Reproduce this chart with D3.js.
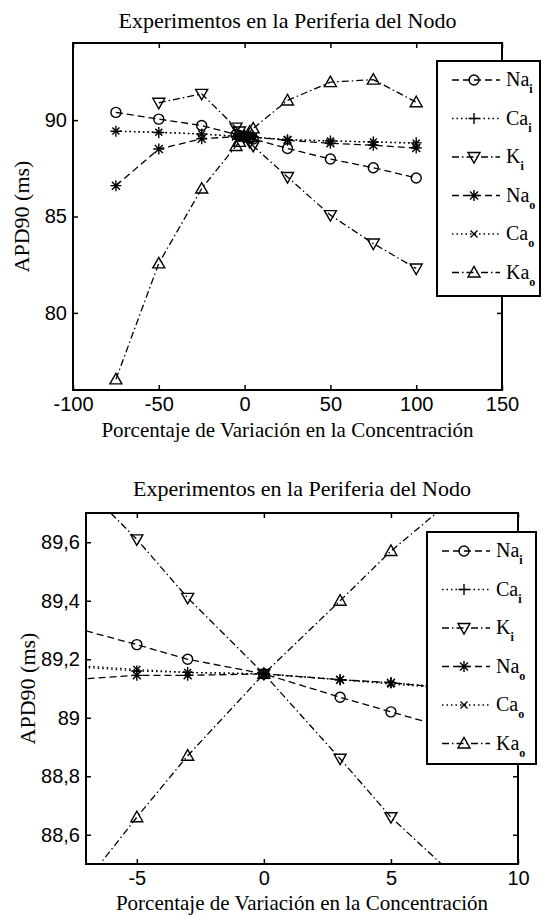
<!DOCTYPE html>
<html>
<head>
<meta charset="utf-8">
<script src="https://cdn.jsdelivr.net/npm/d3@7"></script>
<style>
  body { margin: 0; background: #fff; }
  text { fill: #000; }
</style>
</head>
<body>
<svg id="chart" width="542" height="918"></svg>
<script>
// porcentaje de variacion de la concentracion (eje x, comun a todas las series)
var pct = [-75, -50, -25, -5, -3, 0, 3, 5, 25, 50, 75, 100];

// APD90 (ms) de cada serie
var naI = [90.40, 90.05, 89.72, 89.25, 89.20, 89.15, 89.07, 89.02, 88.53, 87.98, 87.53, 87.00];
var caI = [89.42, 89.36, 89.28, 89.16, 89.155, 89.15, 89.13, 89.12, 88.98, 88.92, 88.87, 88.82];
var kI  = [null, 90.90, 91.36, 89.61, 89.41, 89.15, 88.86, 88.66, 87.05, 85.07, 83.60, 82.30];
var naO = [86.60, 88.50, 89.03, 89.145, 89.145, 89.15, 89.13, 89.12, 88.95, 88.80, 88.70, 88.55];
var caO = [89.43, 89.37, 89.28, 89.165, 89.155, 89.15, 89.13, 89.115, 88.99, 88.92, 88.86, 88.80];
var kaO = [76.55, 82.57, 86.45, 88.66, 88.87, 89.15, 89.40, 89.57, 91.02, 91.97, 92.10, 90.93];

var ionNames = ["Na", "Ca", "K", "Na", "Ca", "Ka"];
var ionSubs  = ["i", "i", "i", "o", "o", "o"];

var topXTicks = [-100, -50, 0, 50, 100, 150];
var topYTicks = [80, 85, 90];
var botXTicks = [-5, 0, 5, 10];
var botYTicks = [88.6, 88.8, 89, 89.2, 89.4, 89.6];

var titleText = "Experimentos en la Periferia del Nodo";
var xLabelText = "Porcentaje de Variación en la Concentración";
var yLabelText = "APD90 (ms)";

// estilo de linea y marcador por serie (estilo MATLAB)
var DASH = "7,4", DOT = "1.5,3", DASHDOT = "7,3,1.5,3";
var styles = [
  { dash: DASH, mark: "o" },
  { dash: DOT, mark: "+" },
  { dash: DASHDOT, mark: "v" },
  { dash: DASH, mark: "*" },
  { dash: DOT, mark: "x" },
  { dash: DASHDOT, mark: "^" }
];
var allSeries = [naI, caI, kI, naO, caO, kaO];

var SERIF = "Liberation Serif, Times New Roman, serif";
var SANS = "Liberation Sans, Arial, sans-serif";

function markerPath(m) {
  switch (m) {
    case "+": return "M-5.5,0H5.5M0,-5.5V5.5";
    case "x": return "M-3.5,-3.5L3.5,3.5M-3.5,3.5L3.5,-3.5";
    case "*": return "M-5.5,0H5.5M0,-5.5V5.5M-4,-4L4,4M-4,4L4,-4";
    case "v": return "M-6,-4.5L6,-4.5L0,6Z";
    case "^": return "M-6,4.5L6,4.5L0,-6Z";
  }
  return null;
}

function drawMarker(g, m, x, y) {
  if (m === "o") {
    g.append("circle").attr("cx", x).attr("cy", y).attr("r", 5)
      .attr("fill", "none").attr("stroke", "#000").attr("stroke-width", 1.4);
  } else {
    g.append("path").attr("d", markerPath(m))
      .attr("transform", "translate(" + x + "," + y + ")")
      .attr("fill", "none").attr("stroke", "#000").attr("stroke-width", 1.4);
  }
}

var svg = d3.select("#chart");

function fmtComma(d) { return String(d).replace(".", ","); }

function panel(o) {
  var width = o.x1 - o.x0, height = o.y1 - o.y0;
  var g = svg.append("g").attr("transform", "translate(" + o.x0 + "," + o.y0 + ")");

  var x = d3.scaleLinear().domain(o.xDom).range([0, width]);
  var y = d3.scaleLinear().domain(o.yDom).range([height, 0]);

  g.append("clipPath").attr("id", o.id)
    .append("rect").attr("width", width).attr("height", height);

  // ejes con ticks hacia dentro en los cuatro lados
  var ax = [
    g.append("g").attr("transform", "translate(0," + height + ")")
      .call(d3.axisBottom(x).tickValues(o.xTicks).tickSize(-5).tickPadding(7).tickFormat(o.fmt)),
    g.append("g")
      .call(d3.axisTop(x).tickValues(o.xTicks).tickSize(-5).tickFormat("")),
    g.append("g")
      .call(d3.axisLeft(y).tickValues(o.yTicks).tickSize(-5).tickPadding(6).tickFormat(o.fmt)),
    g.append("g").attr("transform", "translate(" + width + ",0)")
      .call(d3.axisRight(y).tickValues(o.yTicks).tickSize(-5).tickFormat(""))
  ];
  ax.forEach(function(a) {
    a.select(".domain").remove();
    a.selectAll("line").attr("stroke", "#000").attr("stroke-width", 1.5);
    a.selectAll("text").style("font-family", SANS)
      .style("font-size", "20px").attr("fill", "#000");
  });

  g.append("rect").attr("width", width).attr("height", height)
    .attr("fill", "none").attr("stroke", "#000").attr("stroke-width", 2);

  var plot = g.append("g").attr("clip-path", "url(#" + o.id + ")");
  var line = d3.line()
    .defined(function(d) { return d[1] != null; })
    .x(function(d) { return x(d[0]); })
    .y(function(d) { return y(d[1]); });

  allSeries.forEach(function(vals, i) {
    var pts = pct.map(function(p, j) { return [p, vals[j]]; });
    plot.append("path").datum(pts).attr("d", line)
      .attr("fill", "none").attr("stroke", "#000").attr("stroke-width", 1.3)
      .attr("stroke-dasharray", styles[i].dash);
    pts.forEach(function(d) {
      if (d[1] != null) drawMarker(plot, styles[i].mark, x(d[0]), y(d[1]));
    });
  });

  // titulo y etiquetas
  svg.append("text").attr("x", (o.x0 + o.x1) / 2).attr("y", o.titleY)
    .attr("text-anchor", "middle")
    .style("font-family", SERIF).style("font-size", "22px")
    .text(titleText);
  svg.append("text").attr("x", (o.x0 + o.x1) / 2).attr("y", o.xLabelY)
    .attr("text-anchor", "middle")
    .style("font-family", SERIF).style("font-size", "21px")
    .text(xLabelText);
  svg.append("text")
    .attr("transform", "translate(" + o.yLabelX + "," + (o.y0 + o.y1) / 2 + ") rotate(-90)")
    .attr("text-anchor", "middle")
    .style("font-family", SERIF).style("font-size", "22px")
    .text(yLabelText);

  // leyenda
  var lg = svg.append("g").attr("transform", "translate(" + o.lx + "," + o.ly + ")");
  lg.append("rect").attr("width", o.lw).attr("height", o.lh)
    .attr("fill", "#fff").attr("stroke", "#000").attr("stroke-width", 2);
  ionNames.forEach(function(nm, i) {
    var cy = 19 + 38.5 * i;
    lg.append("line").attr("x1", 15).attr("x2", 63).attr("y1", cy).attr("y2", cy)
      .attr("stroke", "#000").attr("stroke-width", 1.3)
      .attr("stroke-dasharray", styles[i].dash);
    drawMarker(lg, styles[i].mark, 37, cy);
    var t = lg.append("text").attr("x", 69).attr("y", cy + 6)
      .style("font-family", SERIF).style("font-size", "20px");
    t.append("tspan").text(nm);
    t.append("tspan").attr("dy", 7).style("font-size", "12px").style("font-weight", "bold").text(ionSubs[i]);
  });
}

panel({
  id: "clipTop", x0: 73, x1: 502, y0: 43, y1: 390,
  xDom: [-100, 150], yDom: [76, 94],
  xTicks: topXTicks, yTicks: topYTicks, fmt: function(d) { return String(d); },
  titleY: 28, xLabelY: 437, yLabelX: 29,
  lx: 437, ly: 61, lw: 103, lh: 235
});

panel({
  id: "clipBot", x0: 86, x1: 518, y0: 513, y1: 864,
  xDom: [-7, 10], yDom: [88.5, 89.7],
  xTicks: botXTicks, yTicks: botYTicks, fmt: fmtComma,
  titleY: 496, xLabelY: 910, yLabelX: 35,
  lx: 427, ly: 532, lw: 109, lh: 232
});
</script>
</body>
</html>
